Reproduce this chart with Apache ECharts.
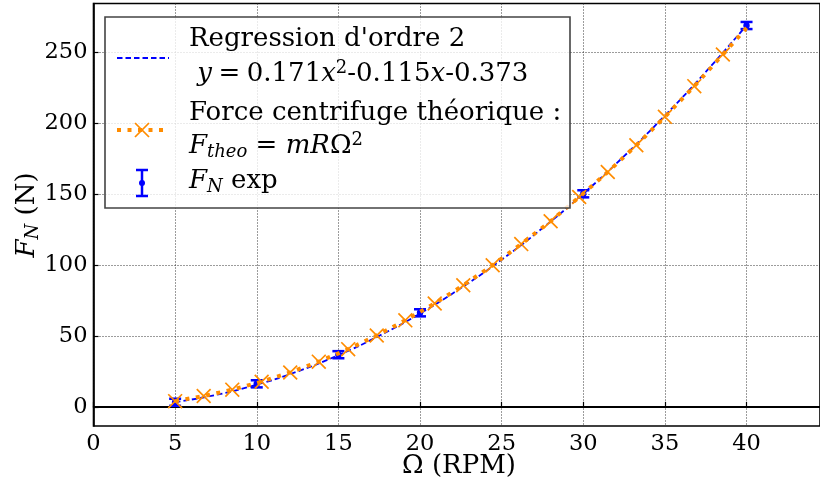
<!DOCTYPE html>
<html><head><meta charset="utf-8">
<script src="https://cdn.jsdelivr.net/npm/echarts@6/dist/echarts.min.js"></script>
<style>html,body{margin:0;padding:0;background:#fff}#c{width:820px;height:484px}</style>
</head><body><div id="c"></div>
<script>
// ---- data ----
const xTicks = [0, 5, 10, 15, 20, 25, 30, 35, 40];
const yTicks = [0, 50, 100, 150, 200, 250];
// experimental points F_N exp
const expX = [5, 10, 15, 20, 30, 40];
const expY = [3.2, 16.2, 36.7, 66.2, 150.0, 268.5];
const expErr = [2.5, 2.5, 2.5, 2.5, 2.5, 2.5];
// regression curve (order 2)
const regX = [5, 7.5, 10, 12.5, 15, 17.5, 20, 22.5, 25, 27.5, 30, 32.5, 35, 37.5, 40];
const regY = [3.3, 8.4, 15.6, 24.9, 36.4, 50.0, 65.7, 83.6, 103.6, 125.8, 150.1, 176.5, 205.1, 235.8, 268.6];
// theoretical centrifugal force (markers on the first 20 points)
const theoX = [5.0, 6.75, 8.5, 10.3, 12.05, 13.8, 15.6, 17.35, 19.1, 20.9, 22.65, 24.45, 26.2, 28.0, 29.75, 31.5, 33.25, 35.0, 36.8, 38.55, 40.0];
const theoY = [4.0, 7.6, 12.1, 17.7, 24.2, 31.8, 40.6, 50.2, 60.9, 72.8, 85.6, 99.7, 114.6, 130.7, 147.7, 165.3, 184.2, 204.2, 225.8, 248.1, 266.8];
const theoMarkerCount = 20;

// ---- chart ----
const FONT = "'DejaVu Serif', serif";
const BLUE = '#0000ff';
const ORANGE = '#ff8c00';
const CROSS = 'path://M0,0.08 L0.08,0 L1,0.92 L0.92,1 Z M0.92,0 L1,0.08 L0.08,1 L0,0.92 Z';
const TICK_FS = 22.5;
const TXT_FS = 26;
const SUB_FS = 18;

const chart = echarts.init(document.getElementById('c'), null, {renderer: 'canvas'});

const zip = (a, b) => a.map((v, i) => [v, b[i]]);

const gridLine = {show: true, lineStyle: {color: '#222', width: 0.9, type: [1, 2]}};

const richStyles = {
  i: {fontFamily: 'DejaVu Serif', fontStyle: 'italic', fontSize: TXT_FS, lineHeight: 30},
  sub: {fontFamily: 'DejaVu Serif', fontStyle: 'italic', fontSize: SUB_FS, lineHeight: 16, verticalAlign: 'bottom'},
  sup: {fontFamily: 'DejaVu Serif', fontSize: SUB_FS, lineHeight: 15, verticalAlign: 'top'}
};
function richText(x, y, text, extra, align) {
  return Object.assign({type: 'text', z: 101, x: x, y: y, style: {
    text: text, fontFamily: 'DejaVu Serif', fontSize: TXT_FS, fill: '#000',
    align: align || 'left', verticalAlign: 'middle', lineHeight: 30, rich: richStyles
  }}, extra || {});
}

const option = {
  animation: false,
  backgroundColor: '#fff',
  grid: {left: 93.5, top: 3.5, width: 730.2, height: 422.5, show: true,
         borderColor: '#000', borderWidth: 1.6, backgroundColor: 'transparent'},
  xAxis: {
    type: 'value', min: 0, max: 44.5,
    axisLine: {show: true, lineStyle: {color: '#000', width: 1.6}},
    axisTick: {show: true, inside: true, length: 5, lineStyle: {color: '#000', width: 1.2}, customValues: xTicks},
    axisLabel: {customValues: xTicks, color: '#000', fontFamily: FONT, fontSize: TICK_FS, margin: 7},
    splitLine: gridLine
  },
  yAxis: {
    type: 'value', min: -13.5, max: 284,
    axisLine: {show: true, lineStyle: {color: '#000', width: 1.6}},
    axisTick: {show: true, inside: true, length: 5, lineStyle: {color: '#000', width: 1.2}, customValues: yTicks},
    axisLabel: {customValues: yTicks, color: '#000', fontFamily: FONT, fontSize: TICK_FS, margin: 6},
    splitLine: gridLine
  },
  series: [
    {
      type: 'custom', name: 'exp', z: 3,
      data: expX.map((x, i) => [x, expY[i], expErr[i]]),
      renderItem: function (params, api) {
        const x = api.value(0), y = api.value(1), e = api.value(2);
        const lo = api.coord([x, y - e]);
        const hi = api.coord([x, y + e]);
        const c = api.coord([x, y]);
        const st = {stroke: BLUE, lineWidth: 2.5};
        return {type: 'group', children: [
          {type: 'line', shape: {x1: lo[0], y1: lo[1], x2: hi[0], y2: hi[1]}, style: st},
          {type: 'line', shape: {x1: lo[0] - 6, y1: lo[1], x2: lo[0] + 6, y2: lo[1]}, style: st},
          {type: 'line', shape: {x1: hi[0] - 6, y1: hi[1], x2: hi[0] + 6, y2: hi[1]}, style: st},
          {type: 'circle', shape: {cx: c[0], cy: c[1], r: 3.2}, style: {fill: BLUE}}
        ]};
      }
    },
    {
      type: 'line', name: 'reg', z: 4, showSymbol: false, symbol: 'none',
      data: zip(regX, regY), smooth: true,
      lineStyle: {color: BLUE, width: 1.8, type: [5.5, 3]},
      markLine: {silent: true, symbol: 'none', label: {show: false},
                 lineStyle: {color: '#000', width: 2, type: 'solid'}, data: [{yAxis: 0}], z: 2}
    },
    {
      type: 'line', name: 'theo', z: 5, showSymbol: false, symbol: 'none',
      data: zip(theoX, theoY),
      lineStyle: {color: ORANGE, width: 4, type: [4, 6.5], cap: 'butt'}
    },
    {
      type: 'scatter', name: 'theoMarks', z: 6, symbol: CROSS, symbolSize: 15,
      data: zip(theoX, theoY).slice(0, theoMarkerCount),
      itemStyle: {color: ORANGE, opacity: 1}
    }
  ],
  graphic: [
    // legend box
    {type: 'rect', z: 100, shape: {x: 105, y: 17, width: 465, height: 191},
     style: {fill: 'rgba(255,255,255,0.8)', stroke: '#444', lineWidth: 1.6}},
    {type: 'line', z: 101, shape: {x1: 117, y1: 58, x2: 169, y2: 58},
     style: {stroke: BLUE, lineWidth: 1.8, lineDash: [5.5, 3]}},
    {type: 'line', z: 101, shape: {x1: 117, y1: 130, x2: 169, y2: 130},
     style: {stroke: ORANGE, lineWidth: 4, lineDash: [4, 6.5], lineCap: 'butt'}},
    {type: 'line', z: 102, shape: {x1: 135, y1: 123, x2: 149, y2: 137}, style: {stroke: ORANGE, lineWidth: 1.7}},
    {type: 'line', z: 102, shape: {x1: 135, y1: 137, x2: 149, y2: 123}, style: {stroke: ORANGE, lineWidth: 1.7}},
    {type: 'line', z: 101, shape: {x1: 142, y1: 170, x2: 142, y2: 196}, style: {stroke: BLUE, lineWidth: 2.5}},
    {type: 'line', z: 101, shape: {x1: 136, y1: 170, x2: 148, y2: 170}, style: {stroke: BLUE, lineWidth: 2.5}},
    {type: 'line', z: 101, shape: {x1: 136, y1: 196, x2: 148, y2: 196}, style: {stroke: BLUE, lineWidth: 2.5}},
    {type: 'circle', z: 101, shape: {cx: 142, cy: 183, r: 3}, style: {fill: BLUE}},
    richText(189, 39.5, "Regression d'ordre 2"),
    richText(189, 74, ' {i|y}\u2005=\u20050.171{i|x}{sup|2}-0.115{i|x}-0.373'),
    richText(189, 113.5, 'Force centrifuge théorique :'),
    richText(189, 146.5, '{i|F}{sub|theo} = {i|mR}Ω{sup|2}'),
    richText(189, 181.5, '{i|F}{sub|N} exp'),
    // axis titles
    richText(459, 466, 'Ω (RPM)', {}, 'center'),
    richText(27, 215, '{i|F}{sub|N} (N)', {rotation: Math.PI / 2}, 'center')
  ]
};
chart.setOption(option);
</script>
</body></html>
